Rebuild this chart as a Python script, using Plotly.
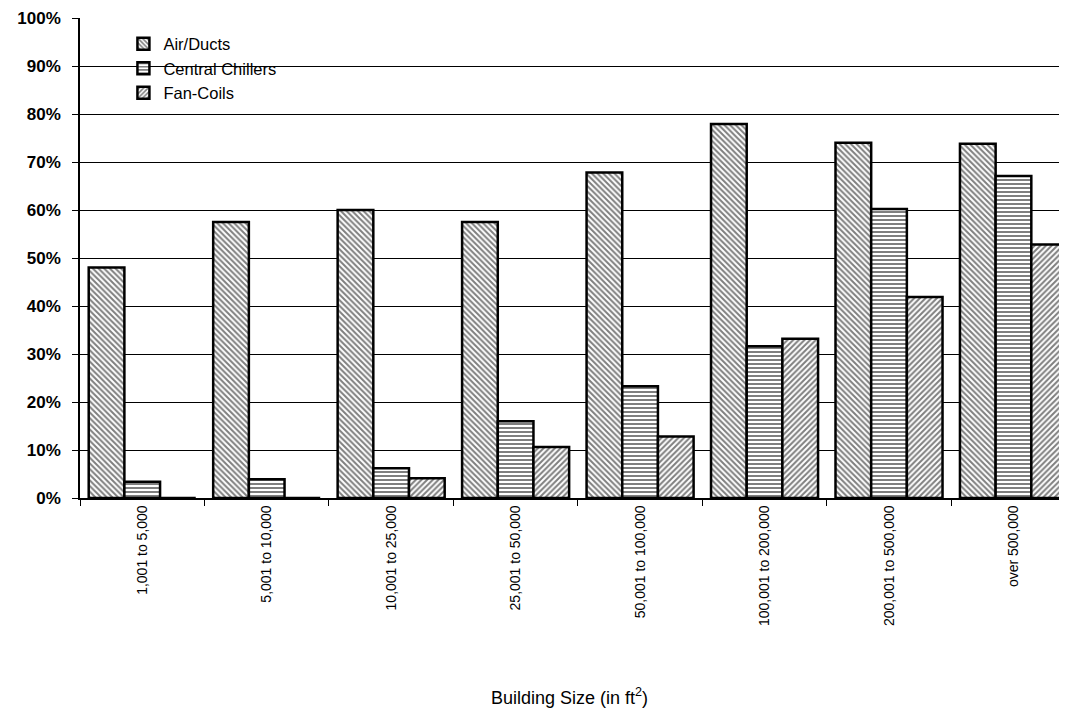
import plotly.graph_objects as go

categories = ["1,001 to 5,000", "5,001 to 10,000", "10,001 to 25,000", "25,001 to 50,000",
              "50,001 to 100,000", "100,001 to 200,000", "200,001 to 500,000", "over 500,000"]
air_ducts = [48, 57.5, 60, 57.5, 67.8, 77.9, 74.0, 73.8]
central_chillers = [3.4, 3.9, 6.2, 16.0, 23.3, 31.6, 60.2, 67.1]
fan_coils = [0, 0, 4.1, 10.6, 12.8, 33.2, 41.9, 52.8]
y_ticks = [0, 10, 20, 30, 40, 50, 60, 70, 80, 90, 100]
y_tick_text = [f"{v}%" for v in y_ticks]
x_title = "Building Size (in ft<sup>2</sup>)"

series = [
    ("Air/Ducts", air_ducts, "\\"),
    ("Central Chillers", central_chillers, "-"),
    ("Fan-Coils", fan_coils, "/"),
]

fig = go.Figure()
for name, vals, shape in series:
    fig.add_trace(go.Bar(
        x=categories, y=vals, name=name,
        marker=dict(color="white",
                    line=dict(color="black", width=2.5),
                    pattern=dict(shape=shape, fgcolor="black", bgcolor="white",
                                 size=4, solidity=0.5, fillmode="overlay")),
    ))

FONT = "Liberation Sans, Arial, Helvetica, sans-serif"
fig.update_layout(
    width=1059, height=705,
    margin=dict(l=72, r=0, t=10, b=215, autoexpand=False),
    paper_bgcolor="white", plot_bgcolor="white",
    barmode="group", bargap=0.14, bargroupgap=0,
    font=dict(family=FONT, color="black", size=14),
    showlegend=True,
    legend=dict(x=0.044, y=0.982, xanchor="left", yanchor="top",
                bgcolor="rgba(255,255,255,0)", borderwidth=0,
                font=dict(size=16.5, family=FONT), itemwidth=30, tracegroupgap=0),
    xaxis=dict(
        range=[-0.5, 7.43], tickangle=-90, tickson="boundaries",
        ticks="outside", ticklen=6, tickcolor="black",
        showline=True, linecolor="black", linewidth=1.5,
        showgrid=False, tickfont=dict(size=14, family=FONT),
        automargin=False,
    ),
    yaxis=dict(
        range=[0, 100], tickvals=y_ticks, ticktext=y_tick_text,
        ticks="outside", ticklen=6, tickcolor="black",
        showline=True, linecolor="black", linewidth=1.5,
        showgrid=True, gridcolor="black", gridwidth=1,
        tickfont=dict(size=17, family=FONT, weight="bold"),
        ticklabelstandoff=8,
        zeroline=False, automargin=False,
    ),
    annotations=[dict(text=x_title, xref="paper", yref="paper", x=0.496, y=-0.413,
                      xanchor="center", yanchor="middle", showarrow=False,
                      font=dict(size=18, family=FONT))],
)

fig.write_html("out.html")
